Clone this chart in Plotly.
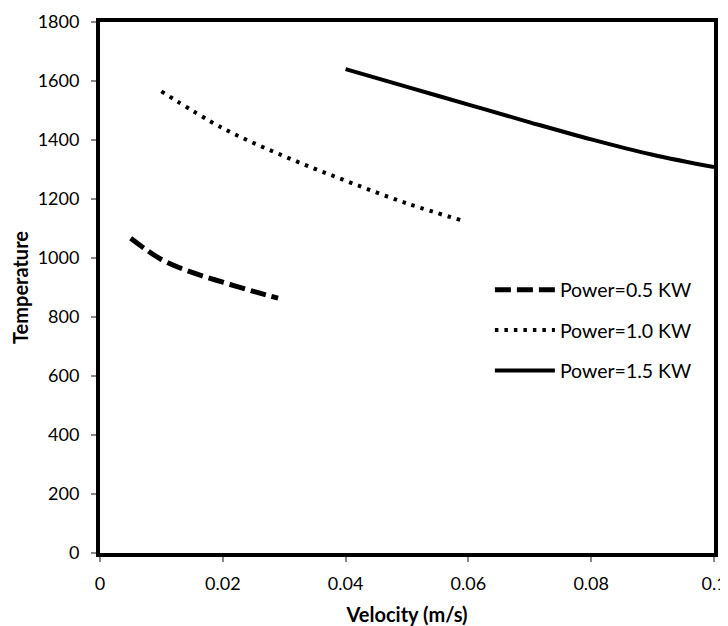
import plotly.graph_objects as go

v_05 = [0.005, 0.010, 0.015, 0.020, 0.025, 0.029]
t_05 = [1067, 995, 951, 918, 887, 864]

v_10 = [0.010, 0.020, 0.030, 0.040, 0.050, 0.059]
t_10 = [1565, 1440, 1345, 1262, 1185, 1127]

v_15 = [0.040, 0.050, 0.060, 0.070, 0.080, 0.090, 0.100]
t_15 = [1640, 1580, 1520, 1460, 1402, 1350, 1308]

names = ["Power=0.5 KW", "Power=1.0 KW", "Power=1.5 KW"]
x_ticks = [0, 0.02, 0.04, 0.06, 0.08, 0.1]
x_labels = ["0", "0.02", "0.04", "0.06", "0.08", "0.1"]
y_ticks = [0, 200, 400, 600, 800, 1000, 1200, 1400, 1600, 1800]

FONT = "Lato"

fig = go.Figure()
fig.add_trace(go.Scatter(x=v_05, y=t_05, mode="lines", name=names[0], legendgroup="a",
                         line=dict(color="black", width=5, dash="16px,6px", shape="spline")))
fig.add_trace(go.Scatter(x=v_10, y=t_10, mode="lines", name=names[1], legendgroup="b",
                         line=dict(color="black", width=4, dash="3.5px,6px", shape="spline")))
fig.add_trace(go.Scatter(x=v_15, y=t_15, mode="lines", name=names[2], legendgroup="c",
                         line=dict(color="black", width=4, shape="spline")))

fig.update_layout(
    width=720, height=618,
    margin=dict(l=92, r=14, t=14, b=73),
    paper_bgcolor="white", plot_bgcolor="white",
    font=dict(family=FONT, size=18, color="black"),
    showlegend=True,
    legend=dict(x=0.635, y=0.532, xanchor="left", yanchor="top",
                bgcolor="rgba(0,0,0,0)", font=dict(family=FONT, size=19.5),
                tracegroupgap=12, itemwidth=60),
    xaxis=dict(range=[0, 0.1], tickvals=x_ticks, ticktext=x_labels,
               showgrid=False, zeroline=False, automargin=False,
               showline=True, linecolor="black", linewidth=4, mirror=True,
               ticks="outside", ticklen=5, tickcolor="#888888", tickwidth=1.5,
               ticklabelstandoff=6,
               tickfont=dict(family=FONT, size=18),
               title=dict(text="<b>Velocity (m/s)</b>", font=dict(family=FONT, size=20), standoff=16)),
    yaxis=dict(range=[0, 1800], tickvals=y_ticks,
               showgrid=False, zeroline=False, automargin=False,
               showline=True, linecolor="black", linewidth=4, mirror=True,
               ticks="outside", ticklen=5, tickcolor="#888888", tickwidth=1.5,
               ticklabelstandoff=8,
               tickfont=dict(family=FONT, size=18),
               title=dict(text="<b>Temperature</b>", font=dict(family=FONT, size=20), standoff=13)),
)

fig.write_html("out.html")
